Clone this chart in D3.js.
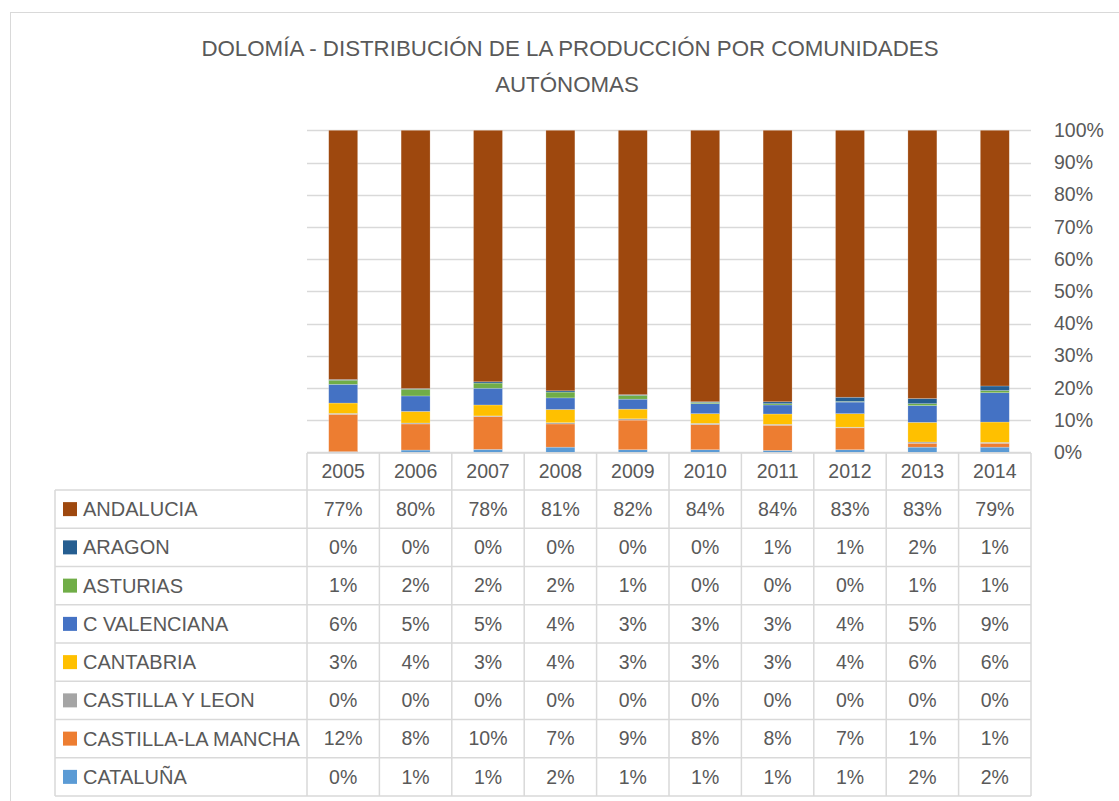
<!DOCTYPE html>
<html>
<head>
<meta charset="utf-8">
<script src="https://cdn.jsdelivr.net/npm/d3@7"></script>
<style>
  body { margin: 0; background: #fff; }
  svg text { font-family: "Liberation Sans", Arial, sans-serif; fill: #595959; }
</style>
</head>
<body>
<svg id="chart"></svg>
<script>
// years along the x axis
let years = ["2005", "2006", "2007", "2008", "2009", "2010", "2011", "2012", "2013", "2014"];

let andalucia      = [77.4, 80.2, 78.1, 80.9, 82.1, 84.3, 84.3, 82.9, 83.3, 79.4];
let aragon         = [0.2, 0.2, 0.4, 0.4, 0.2, 0.2, 0.6, 1.3, 1.6, 1.4];
let asturias       = [1.3, 2.1, 1.6, 1.8, 1.2, 0.4, 0.4, 0.2, 0.6, 0.7];
let cValenciana    = [5.8, 4.8, 5.2, 3.6, 3.1, 3.1, 2.8, 3.6, 5.2, 9.1];
let cantabria      = [3.2, 3.6, 3.4, 4.1, 3.0, 3.0, 3.2, 4.2, 6.1, 6.3];
let castillaLeon   = [0.3, 0.3, 0.2, 0.4, 0.4, 0.4, 0.3, 0.2, 0.4, 0.3];
let castillaMancha = [11.6, 8.1, 10.2, 7.2, 9.2, 7.8, 7.8, 6.8, 1.2, 1.2];
let cataluna       = [0.2, 0.7, 0.9, 1.6, 0.8, 0.8, 0.6, 0.8, 1.6, 1.6];

let seriesNames = ["ANDALUCIA", "ARAGON", "ASTURIAS", "C VALENCIANA", "CANTABRIA",
    "CASTILLA Y LEON", "CASTILLA-LA MANCHA", "CATALUÑA"];
let seriesValues = [andalucia, aragon, asturias, cValenciana, cantabria,
    castillaLeon, castillaMancha, cataluna];
let seriesColors = ["#9E480E", "#255E91", "#70AD47", "#4472C4", "#FFC000",
    "#A5A5A5", "#ED7D31", "#5B9BD5"];
let yTicks = [0, 0.1, 0.2, 0.3, 0.4, 0.5, 0.6, 0.7, 0.8, 0.9, 1];

let width = 1119;
let height = 801;
let plot = {left: 307, right: 1031, top: 130.3, bottom: 452.3};
let table = {left: 55, headerTop: 453, top: 490, rowHeight: 38.25};
let gridColor = "#d9d9d9";
let numSize = 19.5;
let labelSize = 20;

let svg = d3.select("#chart")
    .attr("width", width)
    .attr("height", height);

// chart area border
svg.append("rect")
    .attr("x", 10.5).attr("y", 12.5)
    .attr("width", width + 10).attr("height", height + 10)
    .attr("fill", "none")
    .attr("stroke", gridColor);

// title
let title = svg.append("text")
    .attr("text-anchor", "middle")
    .attr("font-size", 22.3);
title.append("tspan").attr("x", 570).attr("y", 56)
    .text("DOLOMÍA - DISTRIBUCIÓN DE LA PRODUCCIÓN POR COMUNIDADES");
title.append("tspan").attr("x", 567).attr("y", 92)
    .text("AUTÓNOMAS");

// build rows for stacking
let rows = years.map((yr, i) => {
    let row = {year: yr};
    seriesNames.forEach((name, j) => row[name] = seriesValues[j][i] / 100);
    return row;
});

let stackKeys = seriesNames.slice().reverse();
let stacked = d3.stack().keys(stackKeys)(rows);

let xScale = d3.scaleBand()
    .domain(years)
    .range([plot.left, plot.right])
    .paddingInner(0.6)
    .paddingOuter(0.3);
let yScale = d3.scaleLinear()
    .domain([0, 1])
    .range([plot.bottom, plot.top]);

// gridlines
svg.append("g")
    .selectAll("line")
    .data(yTicks)
    .join("line")
    .attr("x1", plot.left)
    .attr("x2", plot.right)
    .attr("y1", d => Math.round(yScale(d)) + 0.5)
    .attr("y2", d => Math.round(yScale(d)) + 0.5)
    .attr("stroke", gridColor)
    .attr("stroke-width", 1.5);

// y axis on the right, labels only
let yAxis = svg.append("g")
    .attr("transform", `translate(${plot.right},0)`)
    .call(d3.axisRight(yScale).tickValues(yTicks).tickFormat(d3.format(".0%")).tickSize(0).tickPadding(23));
yAxis.select(".domain").remove();
yAxis.selectAll("text")
    .attr("font-size", numSize)
    .attr("fill", "#595959")
    .attr("font-family", "Liberation Sans, Arial, sans-serif");

// bars
let colorOf = d3.scaleOrdinal().domain(seriesNames).range(seriesColors);
svg.append("g")
    .selectAll("g")
    .data(stacked)
    .join("g")
    .attr("fill", d => colorOf(d.key))
    .selectAll("rect")
    .data(d => d)
    .join("rect")
    .attr("x", d => xScale(d.data.year))
    .attr("width", xScale.bandwidth())
    .attr("y", d => yScale(d[1]))
    .attr("height", d => yScale(d[0]) - yScale(d[1]))
    .attr("stroke", "#ffffff")
    .attr("stroke-opacity", 0.35)
    .attr("stroke-width", 0.6);

// data table
let colWidth = (plot.right - plot.left) / years.length;
let tableBottom = table.top + table.rowHeight * seriesNames.length;
let tg = svg.append("g");

// horizontal lines
tg.append("line")
    .attr("x1", plot.left).attr("x2", plot.right)
    .attr("y1", table.headerTop).attr("y2", table.headerTop)
    .attr("stroke", gridColor).attr("stroke-width", 1.5);
d3.range(seriesNames.length + 1).forEach(i => {
    let y = table.top + i * table.rowHeight;
    tg.append("line")
        .attr("x1", table.left).attr("x2", plot.right)
        .attr("y1", y).attr("y2", y)
        .attr("stroke", gridColor).attr("stroke-width", 1.5);
});
// vertical lines
tg.append("line")
    .attr("x1", table.left).attr("x2", table.left)
    .attr("y1", table.top).attr("y2", tableBottom)
    .attr("stroke", gridColor).attr("stroke-width", 1.5);
d3.range(years.length + 1).forEach(i => {
    let x = plot.left + i * colWidth;
    tg.append("line")
        .attr("x1", x).attr("x2", x)
        .attr("y1", table.headerTop).attr("y2", tableBottom)
        .attr("stroke", gridColor).attr("stroke-width", 1.5);
});

// header: years
tg.selectAll("text.year")
    .data(years)
    .join("text")
    .classed("year", true)
    .attr("x", d => xScale(d) + xScale.bandwidth() / 2)
    .attr("y", (table.headerTop + table.top) / 2)
    .attr("dy", "0.35em")
    .attr("text-anchor", "middle")
    .attr("font-size", numSize)
    .text(d => d);

// row labels with swatches
let fmt = d3.format(".0%");
seriesNames.forEach((name, j) => {
    let cy = table.top + (j + 0.5) * table.rowHeight;
    tg.append("rect")
        .attr("x", 63).attr("y", cy - 7)
        .attr("width", 14).attr("height", 14)
        .attr("fill", seriesColors[j]);
    tg.append("text")
        .attr("x", 83).attr("y", cy)
        .attr("dy", "0.35em")
        .attr("font-size", labelSize)
        .text(name);
    tg.selectAll(null)
        .data(rows)
        .join("text")
        .attr("x", d => xScale(d.year) + xScale.bandwidth() / 2)
        .attr("y", cy)
        .attr("dy", "0.35em")
        .attr("text-anchor", "middle")
        .attr("font-size", numSize)
        .text(d => fmt(d[name]));
});
</script>
</body>
</html>
